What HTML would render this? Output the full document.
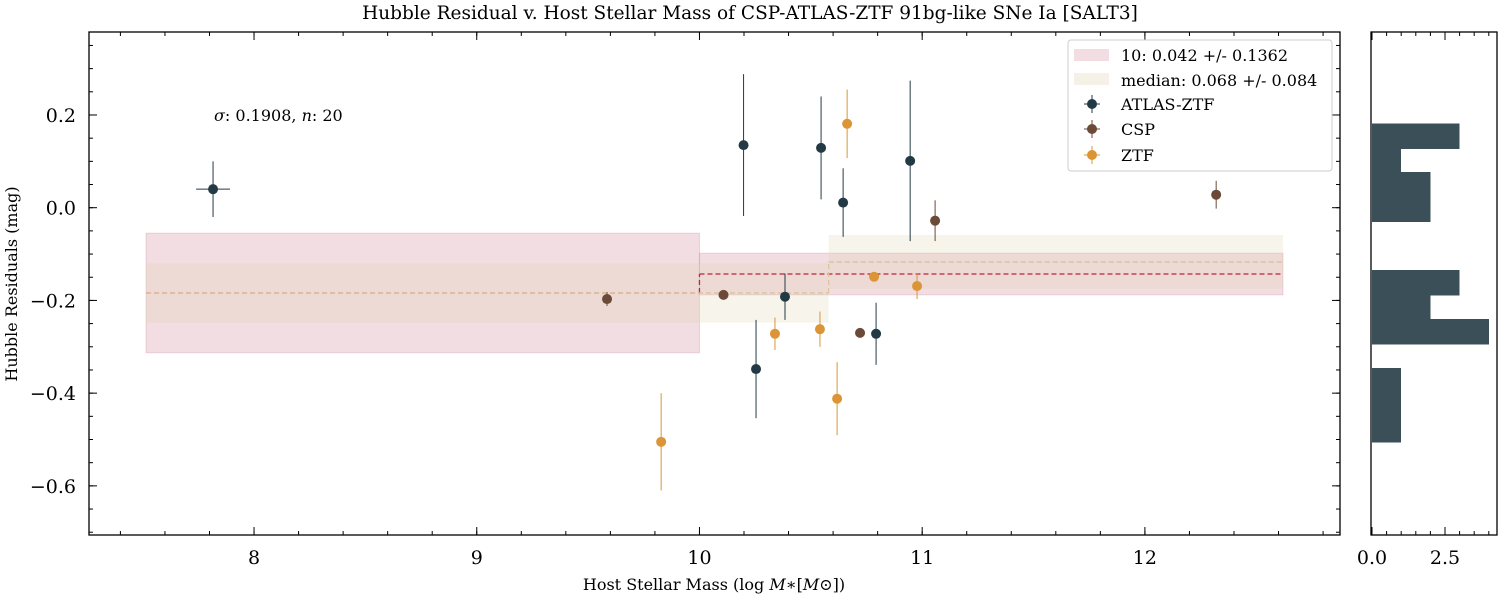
<!DOCTYPE html>
<html><head><meta charset="utf-8"><style>
body{margin:0;background:#fff;}
svg{display:block;font-family:"DejaVu Serif","Liberation Serif",serif;}
</style></head><body>
<svg id="c" width="1500" height="600"></svg>
<script>
const atlasX=[7.816,10.198,10.254,10.384,10.546,10.645,10.793,10.946];
const atlasY=[0.040,0.135,-0.348,-0.192,0.129,0.011,-0.272,0.101];
const atlasE=[0.06,0.153,0.106,0.05,0.111,0.074,0.067,0.173];
const atlasXE=[0.076,0,0,0,0,0,0,0];
const cspX=[9.585,10.108,10.721,11.058,12.32];
const cspY=[-0.197,-0.188,-0.270,-0.028,0.028];
const cspE=[0.015,0.01,0.005,0.044,0.03];
const ztfX=[9.828,10.339,10.541,10.618,10.663,10.784,10.977];
const ztfY=[-0.505,-0.272,-0.262,-0.412,0.181,-0.149,-0.169];
const ztfE=[0.105,0.035,0.038,0.079,0.074,0.01,0.028];
const binRedX=[[7.515,10.0],[10.0,12.62]];
const binRedMid=[-0.184,-0.143];
const binRedErr=[0.129,0.045];
const binMedX=[[7.515,10.58],[10.58,12.62]];
const binMedMid=[-0.184,-0.117];
const binMedErr=[0.064,0.058];
const xTicks=[8,9,10,11,12];
const yTicks=[0.2,0.0,-0.2,-0.4,-0.6];
const hTicks=[0,2.5];

const S=document.getElementById('c'),NS='http://www.w3.org/2000/svg';
function mk(t,a,p,txt){if(typeof p==='string'){txt=p;p=null;}const e=document.createElementNS(NS,t);for(const k in a)e.setAttribute(k,a[k]);if(txt!==undefined)e.textContent=txt;(p||S).appendChild(e);return e;}
const L=89,R=1340,T=32,B=535,HL=1371,HR=1497;
const X=v=>L+(v-7.259)*(R-L)/(12.876-7.259);
const Y=v=>T+(0.379-v)*(B-T)/(0.379+0.706);
const HX=v=>HL+1+v*29.2;
const fmt=v=>(v<-0.001?'\u2212':'')+Math.abs(v).toFixed(1);

binRedX.forEach((r,i)=>{let e=mk('rect',{x:X(r[0]),y:Y(binRedMid[i]+binRedErr[i]),width:X(r[1])-X(r[0]),height:Y(binRedMid[i]-binRedErr[i])-Y(binRedMid[i]+binRedErr[i]),fill:'rgba(200,110,130,0.23)',stroke:'rgba(200,110,130,0.25)'});
});
binMedX.forEach((r,i)=>{let e=mk('rect',{x:X(r[0]),y:Y(binMedMid[i]+binMedErr[i]),width:X(r[1])-X(r[0]),height:Y(binMedMid[i]-binMedErr[i])-Y(binMedMid[i]+binMedErr[i]),fill:'rgba(225,210,175,0.25)'});
});
binRedX.forEach((r,i)=>{let e=mk('polyline',{points:`${X(r[0])},${Y(binRedMid[i])} ${X(r[1])},${Y(binRedMid[i])}`,fill:'none',stroke:'#c0233f','stroke-width':1.3,'stroke-dasharray':'5,3'});
});
mk('line',{x1:X(10),x2:X(10),y1:Y(binRedMid[0]),y2:Y(binRedMid[1]),stroke:'#c0233f','stroke-width':1.3,'stroke-dasharray':'5,3'});
binMedX.forEach((r,i)=>{let e=mk('line',{x1:X(r[0]),x2:X(r[1]),y1:Y(binMedMid[i]),y2:Y(binMedMid[i]),stroke:'#dcc4a0','stroke-width':1.5,'stroke-dasharray':'5,3'});
});
mk('line',{x1:X(10.58),x2:X(10.58),y1:Y(binMedMid[0]),y2:Y(binMedMid[1]),stroke:'#dcc4a0','stroke-width':1.3,'stroke-dasharray':'5,3'});

function series(xs,ys,es,col,name,xe){xs.forEach((x,i)=>{
 const g=mk('g',{});
 mk('line',{x1:X(x),x2:X(x),y1:Y(ys[i]+es[i]),y2:Y(ys[i]-es[i]),stroke:col,'stroke-width':1},g);
 if(xe&&xe[i])mk('line',{x1:X(x-xe[i]),x2:X(x+xe[i]),y1:Y(ys[i]),y2:Y(ys[i]),stroke:col,'stroke-width':1},g);
 mk('circle',{cx:X(x),cy:Y(ys[i]),r:5,fill:col},g);});}
series(atlasX,atlasY,atlasE,'#233a45','atlas-ztf',atlasXE);
series(cspX,cspY,cspE,'#6b4a37','csp');
series(ztfX,ztfY,ztfE,'#db9536','ztf');

function ticks(l,r,t,b,xt,xm,yt,ym,xf,yf){
 mk('rect',{x:l,y:t,width:r-l,height:b-t,fill:'none',stroke:'#000','stroke-width':1.3});
 xt.forEach(v=>{const p=xf(v);mk('line',{x1:p,x2:p,y1:b,y2:b-8,stroke:'#000'});mk('line',{x1:p,x2:p,y1:t,y2:t+8,stroke:'#000'});});
 xm.forEach(v=>{const p=xf(v);mk('line',{x1:p,x2:p,y1:b,y2:b-4,stroke:'#000'});mk('line',{x1:p,x2:p,y1:t,y2:t+4,stroke:'#000'});});
 yt.forEach(v=>{const p=yf(v);mk('line',{x1:l,x2:l+8,y1:p,y2:p,stroke:'#000'});mk('line',{x1:r,x2:r-8,y1:p,y2:p,stroke:'#000'});});
 ym.forEach(v=>{const p=yf(v);mk('line',{x1:l,x2:l+4,y1:p,y2:p,stroke:'#000'});mk('line',{x1:r,x2:r-4,y1:p,y2:p,stroke:'#000'});});}
const xm=[],ym=[];for(let v=7.4;v<12.9;v+=0.2)xm.push(v);for(let v=-0.70;v<0.38;v+=0.05)ym.push(v);
ticks(L,R,T,B,xTicks,xm,yTicks,ym,X,Y);
xTicks.forEach(v=>{let e=mk('text',{x:X(v),y:564,'text-anchor':'middle','font-size':19},null,String(v));});
yTicks.forEach(v=>{let e=mk('text',{x:76,y:Y(v)+7,'text-anchor':'end','font-size':19},null,fmt(v));});

const all=atlasY.concat(cspY,ztfY),mn=Math.min(...all),mx=Math.max(...all),nb=13,w=(mx-mn)/nb,cnt=new Array(nb).fill(0);
all.forEach(v=>{let k=Math.min(nb-1,Math.floor((v-mn)/w));cnt[k]++;});
cnt.forEach((c,k)=>{if(!c)return;let e=mk('rect',{x:HX(0),y:Y(mn+(k+1)*w)-0.5,width:HX(c)-HX(0),height:Y(mn+k*w)-Y(mn+(k+1)*w)+1,fill:'#3b4f58','shape-rendering':'crispEdges'});});
const hm=[];for(let v=0.5;v<4.3;v+=0.5)hm.push(v);
ticks(HL,HR,T,B,hTicks,hm,[],[],HX,Y);
hTicks.forEach(v=>{let e=mk('text',{x:HX(v),y:564,'text-anchor':'middle','font-size':19},null,v.toFixed(1));});

let e;
e=mk('text',{x:750,y:19,'text-anchor':'middle','font-size':18.5},null,'Hubble Residual v. Host Stellar Mass of CSP-ATLAS-ZTF 91bg-like SNe Ia [SALT3]');
e=mk('text',{x:714,y:590,'text-anchor':'middle','font-size':16});
e.innerHTML='Host Stellar Mass (log <tspan font-style="italic">M</tspan>\u2217[<tspan font-style="italic">M</tspan>\u2299])';
e=mk('text',{x:17,y:284,'text-anchor':'middle','font-size':16,transform:'rotate(-90 17 284)'},null,'Hubble Residuals (mag)');
e=mk('text',{x:214,y:121,'font-size':16});e.innerHTML='<tspan font-style="italic">σ</tspan>: 0.1908, <tspan font-style="italic">n</tspan>: 20';

const lg=mk('g',{});
mk('rect',{x:1068,y:40,width:264,height:131,rx:3,fill:'#fff',stroke:'#ccc'},lg);
mk('rect',{x:1074,y:49,width:35,height:12,fill:'rgba(200,110,130,0.23)'},lg);
mk('rect',{x:1074,y:73,width:35,height:12,fill:'rgba(225,210,175,0.3)'},lg);
mk('text',{x:1121,y:61,'font-size':16},lg,'10: 0.042 +/- 0.1362');
mk('text',{x:1121,y:86,'font-size':16},lg,'median: 0.068 +/- 0.084');
[['#233a45','ATLAS-ZTF',104],['#6b4a37','CSP',129],['#db9536','ZTF',155]].forEach(a=>{
 const g=mk('g',{},lg);
 mk('line',{x1:1092,x2:1092,y1:a[2]-9,y2:a[2]+9,stroke:a[0]},g);mk('line',{x1:1084,x2:1100,y1:a[2],y2:a[2],stroke:a[0]},g);
 mk('circle',{cx:1092,cy:a[2],r:5,fill:a[0]},g);
 mk('text',{x:1121,y:a[2]+6,'font-size':16},g,a[1]);});
</script>
</body></html>
